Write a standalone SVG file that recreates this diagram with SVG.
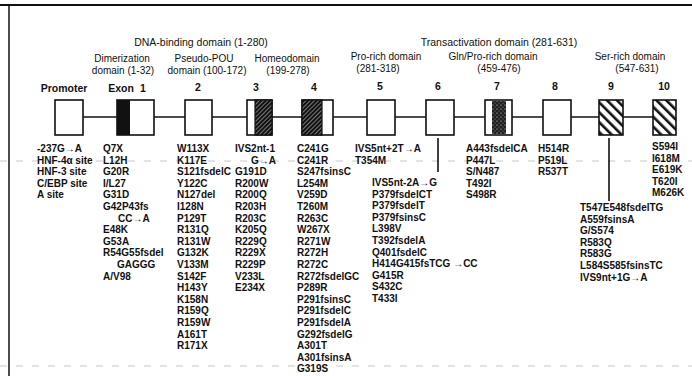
<svg xmlns="http://www.w3.org/2000/svg" width="692" height="376" viewBox="0 0 692 376">
<style>
.hdr{font-family:"Liberation Sans",Arial,sans-serif;font-size:10.5px;fill:#111;text-anchor:middle}
.sub{font-family:"Liberation Sans",Arial,sans-serif;font-size:10px;fill:#111;text-anchor:middle}
.num{font-family:"Liberation Sans",Arial,sans-serif;font-size:10.5px;font-weight:bold;fill:#111;text-anchor:middle}
.mut{font-family:"Liberation Sans",Arial,sans-serif;font-size:10px;font-weight:bold;fill:#111}
.box{fill:#fff;stroke:#111;stroke-width:1.6}
.ln{stroke:#111;stroke-width:1.6;fill:none}
.faint{stroke:#c8c8c8;stroke-width:1;stroke-dasharray:7 9;fill:none}
</style>
<defs>
<pattern id="dense" width="3" height="3" patternUnits="userSpaceOnUse" patternTransform="rotate(45)">
<rect width="3" height="3" fill="#777"/>
<rect width="2" height="3" fill="#111"/>
</pattern>
<pattern id="sparse" width="7" height="7" patternUnits="userSpaceOnUse" patternTransform="rotate(-45)">
<rect width="7" height="7" fill="#fff"/>
<rect width="2.6" height="7" fill="#111"/>
</pattern>
<pattern id="speck" width="4" height="4" patternUnits="userSpaceOnUse">
<rect width="4" height="4" fill="#222"/>
<circle cx="1" cy="1" r="0.6" fill="#ddd"/>
<circle cx="3" cy="3" r="0.5" fill="#999"/>
</pattern>
</defs>
<rect width="692" height="376" fill="#fff"/>
<g id="frame">
<line x1="0" y1="5" x2="692" y2="5" stroke="#111" stroke-width="2"/>
<line x1="9" y1="5" x2="9" y2="376" stroke="#111" stroke-width="1.5"/>
<line class="faint" x1="0" y1="161" x2="692" y2="161"/>
<line class="faint" x1="0" y1="366" x2="692" y2="366"/>
</g>
<g id="headers">
<text class="hdr" x="201" y="46">DNA-binding domain (1-280)</text>
<text class="hdr" x="499" y="46">Transactivation domain (281-631)</text>
<text class="sub" x="122" y="62">Dimerization</text>
<text class="sub" x="123" y="74">domain (1-32)</text>
<text class="sub" x="204" y="62">Pseudo-POU</text>
<text class="sub" x="207" y="74">domain (100-172)</text>
<text class="sub" x="287" y="62">Homeodomain</text>
<text class="sub" x="288" y="74">(199-278)</text>
<text class="sub" x="386" y="60">Pro-rich domain</text>
<text class="sub" x="378" y="72">(281-318)</text>
<text class="sub" x="493" y="60">Gln/Pro-rich domain</text>
<text class="sub" x="499" y="72">(459-476)</text>
<text class="sub" x="630" y="60">Ser-rich domain</text>
<text class="sub" x="637" y="72">(547-631)</text>
</g>
<g id="connectors">
<line class="ln" x1="83" y1="117" x2="653" y2="117"/>
<line class="ln" x1="438" y1="138" x2="438" y2="172"/>
<line class="ln" x1="609" y1="138" x2="609" y2="201"/>
</g>
<g id="promoter">
<text class="num" x="64" y="92">Promoter</text>
<rect class="box" x="55" y="100" width="28" height="35"/>
<text class="mut"><tspan x="37" y="152">-237G→A</tspan><tspan x="37" dy="11.6">HNF-4α site</tspan><tspan x="37" dy="11.6">HNF-3 site</tspan><tspan x="37" dy="11.6">C/EBP site</tspan><tspan x="37" dy="11.6">A site</tspan></text>
</g>
<g id="exon1">
<text class="num" x="121" y="92">Exon</text><text class="num" x="143" y="92">1</text>
<rect class="box" x="117" y="100" width="37" height="35"/>
<rect x="117" y="100" width="13" height="35" fill="#111"/>
<text class="mut"><tspan x="103" y="152">Q7X</tspan><tspan x="103" dy="11.6">L12H</tspan><tspan x="103" dy="11.6">G20R</tspan><tspan x="103" dy="11.6">I/L27</tspan><tspan x="103" dy="11.6">G31D</tspan><tspan x="103" dy="11.6">G42P43fs</tspan><tspan x="118" dy="11.6">CC→A</tspan><tspan x="103" dy="11.6">E48K</tspan><tspan x="103" dy="11.6">G53A</tspan><tspan x="103" dy="11.6">R54G55fsdel</tspan><tspan x="117" dy="11.6">GAGGG</tspan><tspan x="103" dy="11.6">A/V98</tspan></text>
</g>
<g id="exon2">
<text class="num" x="198" y="91">2</text>
<rect class="box" x="185" y="100" width="27" height="35"/>
<text class="mut"><tspan x="177" y="152">W113X</tspan><tspan x="177" dy="11.6">K117E</tspan><tspan x="177" dy="11.6">S121fsdelC</tspan><tspan x="177" dy="11.6">Y122C</tspan><tspan x="177" dy="11.6">N127del</tspan><tspan x="177" dy="11.6">I128N</tspan><tspan x="177" dy="11.6">P129T</tspan><tspan x="177" dy="11.6">R131Q</tspan><tspan x="177" dy="11.6">R131W</tspan><tspan x="177" dy="11.6">G132K</tspan><tspan x="177" dy="11.6">V133M</tspan><tspan x="177" dy="11.6">S142F</tspan><tspan x="177" dy="11.6">H143Y</tspan><tspan x="177" dy="11.6">K158N</tspan><tspan x="177" dy="11.6">R159Q</tspan><tspan x="177" dy="11.6">R159W</tspan><tspan x="177" dy="11.6">A161T</tspan><tspan x="177" dy="11.6">R171X</tspan></text>
</g>
<g id="exon3">
<text class="num" x="256" y="91">3</text>
<rect class="box" x="247" y="100" width="25" height="35"/>
<rect x="255" y="100" width="17" height="35" fill="url(#dense)" stroke="#111" stroke-width="1.2"/>
<text class="mut"><tspan x="235" y="152">IVS2nt-1</tspan><tspan x="251" dy="11.6">G→A</tspan><tspan x="235" dy="11.6">G191D</tspan><tspan x="235" dy="11.6">R200W</tspan><tspan x="235" dy="11.6">R200Q</tspan><tspan x="235" dy="11.6">R203H</tspan><tspan x="235" dy="11.6">R203C</tspan><tspan x="235" dy="11.6">K205Q</tspan><tspan x="235" dy="11.6">R229Q</tspan><tspan x="235" dy="11.6">R229X</tspan><tspan x="235" dy="11.6">R229P</tspan><tspan x="235" dy="11.6">V233L</tspan><tspan x="235" dy="11.6">E234X</tspan></text>
</g>
<g id="exon4">
<text class="num" x="314" y="91">4</text>
<rect class="box" x="302" y="100" width="31" height="35"/>
<rect x="302" y="100" width="20" height="35" fill="url(#dense)" stroke="#111" stroke-width="1.2"/>
<text class="mut"><tspan x="297" y="152">C241G</tspan><tspan x="297" dy="11.6">C241R</tspan><tspan x="297" dy="11.6">S247fsinsC</tspan><tspan x="297" dy="11.6">L254M</tspan><tspan x="297" dy="11.6">V259D</tspan><tspan x="297" dy="11.6">T260M</tspan><tspan x="297" dy="11.6">R263C</tspan><tspan x="297" dy="11.6">W267X</tspan><tspan x="297" dy="11.6">R271W</tspan><tspan x="297" dy="11.6">R272H</tspan><tspan x="297" dy="11.6">R272C</tspan><tspan x="297" dy="11.6">R272fsdelGC</tspan><tspan x="297" dy="11.6">P289R</tspan><tspan x="297" dy="11.6">P291fsinsC</tspan><tspan x="297" dy="11.6">P291fsdelC</tspan><tspan x="297" dy="11.6">P291fsdelA</tspan><tspan x="297" dy="11.6">G292fsdelG</tspan><tspan x="297" dy="11.6">A301T</tspan><tspan x="297" dy="11.6">A301fsinsA</tspan><tspan x="297" dy="11.6">G319S</tspan></text>
</g>
<g id="exon5">
<text class="num" x="380" y="90">5</text>
<rect class="box" x="367" y="100" width="28" height="35"/>
<text class="mut"><tspan x="355" y="152">IVS5nt+2T→A</tspan><tspan x="355" dy="11.6">T354M</tspan></text>
</g>
<g id="exon6">
<text class="num" x="438" y="90">6</text>
<rect class="box" x="426" y="100" width="28" height="35"/>
<text class="mut"><tspan x="372" y="186">IVS5nt-2A→G</tspan><tspan x="372" dy="11.6">P379fsdelCT</tspan><tspan x="372" dy="11.6">P379fsdelT</tspan><tspan x="372" dy="11.6">P379fsinsC</tspan><tspan x="372" dy="11.6">L398V</tspan><tspan x="372" dy="11.6">T392fsdelA</tspan><tspan x="372" dy="11.6">Q401fsdelC</tspan><tspan x="372" dy="11.6">H414G415fsTCG →CC</tspan><tspan x="372" dy="11.6">G415R</tspan><tspan x="372" dy="11.6">S432C</tspan><tspan x="372" dy="11.6">T433I</tspan></text>
</g>
<g id="exon7">
<text class="num" x="497" y="90">7</text>
<rect class="box" x="485" y="100" width="27" height="35"/>
<rect x="492" y="101" width="14" height="33" fill="url(#speck)"/>
<text class="mut"><tspan x="466" y="152">A443fsdelCA</tspan><tspan x="466" dy="11.6">P447L</tspan><tspan x="466" dy="11.6">S/N487</tspan><tspan x="466" dy="11.6">T492I</tspan><tspan x="466" dy="11.6">S498R</tspan></text>
</g>
<g id="exon8">
<text class="num" x="555" y="90">8</text>
<rect class="box" x="543" y="100" width="28" height="35"/>
<text class="mut"><tspan x="538" y="152">H514R</tspan><tspan x="538" dy="11.6">P519L</tspan><tspan x="538" dy="11.6">R537T</tspan></text>
</g>
<g id="exon9">
<text class="num" x="611" y="90">9</text>
<rect x="599" y="100" width="24" height="35" fill="url(#sparse)" stroke="#111" stroke-width="1.6"/>
<text class="mut"><tspan x="580" y="211">T547E548fsdelTG</tspan><tspan x="580" dy="11.6">A559fsinsA</tspan><tspan x="580" dy="11.6">G/S574</tspan><tspan x="580" dy="11.6">R583Q</tspan><tspan x="580" dy="11.6">R583G</tspan><tspan x="580" dy="11.6">L584S585fsinsTC</tspan><tspan x="580" dy="11.6">IVS9nt+1G→A</tspan></text>
</g>
<g id="exon10">
<text class="num" x="664" y="90">10</text>
<rect x="653" y="100" width="23" height="35" fill="url(#sparse)" stroke="#111" stroke-width="1.6"/>
<text class="mut"><tspan x="652" y="150">S594I</tspan><tspan x="652" dy="11.6">I618M</tspan><tspan x="652" dy="11.6">E619K</tspan><tspan x="652" dy="11.6">T620I</tspan><tspan x="652" dy="11.6">M626K</tspan></text>
</g>
</svg>
